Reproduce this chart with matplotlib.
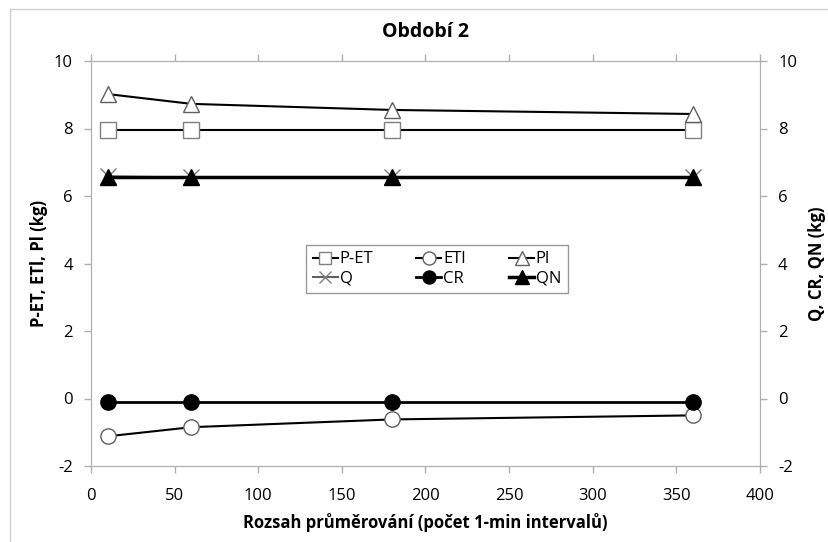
import matplotlib
matplotlib.use('Agg')
import matplotlib.pyplot as plt
from matplotlib.lines import Line2D

plt.rcParams['font.family'] = ['Open Sans', 'DejaVu Sans']
plt.rcParams['axes.unicode_minus'] = False

# averaging range (number of 1-min intervals)
x = [10, 60, 180, 360]

# left axis series (kg)
p_et = [7.95, 7.95, 7.95, 7.95]
eti = [-1.12, -0.85, -0.62, -0.50]
pi = [9.02, 8.73, 8.55, 8.43]

# right axis series (kg)
q = [6.58, 6.55, 6.55, 6.55]
cr = [-0.1, -0.1, -0.1, -0.1]
qn = [6.55, 6.55, 6.55, 6.55]

W, H = 829, 542
fig = plt.figure(figsize=(W / 100, H / 100), dpi=100)
ax = fig.add_axes([91 / W, 1 - 466 / H, (760 - 91) / W, (466 - 61) / H])
ax2 = ax.twinx()

# light frame of the chart area (only top and left visible)
fig.add_artist(Line2D([10 / W, 10 / W], [0, 1 - 9 / H], color='#d0d0d0', lw=1))
fig.add_artist(Line2D([10 / W, 1], [1 - 9 / H, 1 - 9 / H], color='#d0d0d0', lw=1))

ms = 11
l_pet, = ax.plot(x, p_et, color='black', lw=1.5, marker='s', ms=ms, mfc='white', mec='#808080', label='P-ET', zorder=3)
l_eti, = ax.plot(x, eti, color='black', lw=1.5, marker='o', ms=ms, mfc='white', mec='#606060', label='ETl', zorder=3)
l_pi, = ax.plot(x, pi, color='black', lw=1.5, marker='^', ms=ms + 1, mfc='white', mec='#606060', label='Pl', zorder=3)

l_q, = ax2.plot(x, q, color='#606060', lw=1.5, marker='x', ms=ms, mec='#808080', label='Q')
l_cr, = ax2.plot(x, cr, color='black', lw=2, marker='o', ms=ms, mfc='black', mec='black', label='CR')
l_qn, = ax2.plot(x, qn, color='black', lw=2.5, marker='^', ms=ms + 1, mfc='black', mec='black', label='QN')

for a in (ax, ax2):
    a.set_ylim(-2, 10)
    a.set_yticks(range(-2, 11, 2))
    a.tick_params(labelsize=12, color='#b0b0b0', length=5, width=1)
    for s in a.spines.values():
        s.set_color('#b0b0b0')

ax.set_xlim(0, 400)
ax.set_xticks(range(0, 401, 50))
ax.tick_params(axis='x', top=True, labeltop=False, pad=11)
ax.tick_params(axis='y', pad=8)
ax2.tick_params(axis='y', pad=8)

ax.set_xlabel('Rozsah průměrování (počet 1-min intervalů)', fontsize=12, fontweight='bold', labelpad=6)
ax.set_ylabel('P-ET, ETl, Pl (kg)', fontsize=12, fontweight='bold')
ax2.set_ylabel('Q, CR, QN (kg)', fontsize=12, fontweight='bold', labelpad=8)
ax.set_title('Období 2', fontsize=14, fontweight='bold', pad=17)

# column-major order so rows read P-ET, ETl, Pl / Q, CR, QN
handles = [l_pet, l_q, l_eti, l_cr, l_pi, l_qn]
leg = fig.legend(handles, [h.get_label() for h in handles], ncol=3, loc='center',
                 bbox_to_anchor=(437 / W, 1 - 269 / H), fontsize=12,
                 frameon=True, fancybox=False, edgecolor='#808080',
                 handlelength=1.5, handletextpad=0.1, columnspacing=2.6,
                 borderpad=0.4, labelspacing=0.2, markerscale=0.85)
leg.get_frame().set_linewidth(1)

fig.savefig('out.png', dpi=100)
